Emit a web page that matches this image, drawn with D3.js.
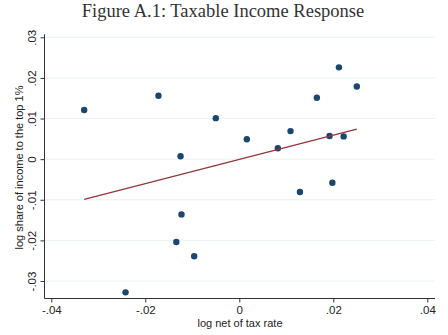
<!DOCTYPE html>
<html>
<head>
<meta charset="utf-8">
<title>Taxable Income Response</title>
<script src="https://d3js.org/d3.v7.min.js"></script>
<style>
  body { margin: 0; background: #fff; }
  svg text { fill: #222; }
</style>
</head>
<body>
<svg id="chart" width="448" height="335"></svg>
<script>
// log net of tax rate (x) and log share of income to the top 1% (y)
const netTax = [-0.0330, -0.0172, -0.0050, 0.0016, -0.0125, 0.0212, 0.0250, 0.0165, 0.0109,
                0.0082, 0.0192, 0.0222, 0.0198, 0.0129, -0.0123, -0.0134, -0.0096, -0.0242]
const topShare = [0.0121, 0.0156, 0.0101, 0.0049, 0.0007, 0.0226, 0.0179, 0.0151, 0.0069,
                  0.0027, 0.0057, 0.0056, -0.0058, -0.0081, -0.0136, -0.0204, -0.0239, -0.0328]
// fitted line end points
const fitX = [-0.0330, 0.0250]
const fitY = [-0.0099, 0.0074]
const xTicks = [-0.04, -0.02, 0, 0.02, 0.04]
const yTicks = [-0.03, -0.02, -0.01, 0, 0.01, 0.02, 0.03]

const svg = d3.select("#chart")
const left = 44.5, right = 435, bottom = 298.5

const x = d3.scaleLinear().domain([-0.04, 0.04]).range([51.3, 427.3])
const y = d3.scaleLinear().domain([-0.03, 0.03]).range([281, 37.3])

// stata style labels: -.02, 0, .02
const fmt = d => d === 0 ? "0" : (d < 0 ? "-" : "") + d3.format(".2f")(Math.abs(d)).replace("0.", ".")

svg.append("text")
    .attr("x", 223).attr("y", 17)
    .attr("text-anchor", "middle")
    .style("font-family", "Liberation Serif, serif")
    .style("font-size", "18.5px")
    .style("fill", "#333")
    .text("Figure A.1: Taxable Income Response")

// grid
svg.append("g").selectAll("line")
    .data(yTicks)
    .enter().append("line")
    .attr("x1", left).attr("x2", right)
    .attr("y1", d => y(d)).attr("y2", d => y(d))
    .attr("stroke", "#eaf2f3")
    .attr("stroke-width", 1)

const yAxis = d3.axisLeft(y).tickValues(yTicks).tickFormat(fmt).tickSize(4).tickPadding(4)
const gy = svg.append("g").attr("transform", `translate(${left},0)`).call(yAxis)
gy.select(".domain").attr("d", `M0,${y(0.03) - 3}V${bottom}`)
gy.selectAll("text")
    .attr("transform", "rotate(-90)")
    .attr("x", 0).attr("y", 0)
    .attr("dx", 0).attr("dy", -9)
    .attr("text-anchor", "middle")

const xAxis = d3.axisBottom(x).tickValues(xTicks).tickFormat(fmt).tickSize(4).tickPadding(3)
const gx = svg.append("g").attr("transform", `translate(0,${bottom})`).call(xAxis)
gx.select(".domain").attr("d", `M${left},0H${right}`)

svg.selectAll(".tick text")
    .style("font-family", "Liberation Sans, Arial, sans-serif")
    .style("font-size", "11.5px")
    .style("fill", "#222")
svg.selectAll(".domain, .tick line").attr("stroke", "#333")

svg.append("text")
    .attr("x", 240).attr("y", 327)
    .attr("text-anchor", "middle")
    .style("font-family", "Liberation Sans, Arial, sans-serif")
    .style("font-size", "11px")
    .text("log net of tax rate")

svg.append("text")
    .attr("transform", `translate(23,${(37 + 298) / 2}) rotate(-90)`)
    .attr("text-anchor", "middle")
    .style("font-family", "Liberation Sans, Arial, sans-serif")
    .style("font-size", "11px")
    .text("log share of income to the top 1%")

svg.append("g").selectAll("circle")
    .data(netTax)
    .enter().append("circle")
    .attr("cx", d => x(d))
    .attr("cy", (d, i) => y(topShare[i]))
    .attr("r", 3.2)
    .attr("fill", "#1a476f")

svg.append("line")
    .attr("x1", x(fitX[0])).attr("y1", y(fitY[0]))
    .attr("x2", x(fitX[1])).attr("y2", y(fitY[1]))
    .attr("stroke", "#90353b")
    .attr("stroke-width", 1.2)
</script>
</body>
</html>
